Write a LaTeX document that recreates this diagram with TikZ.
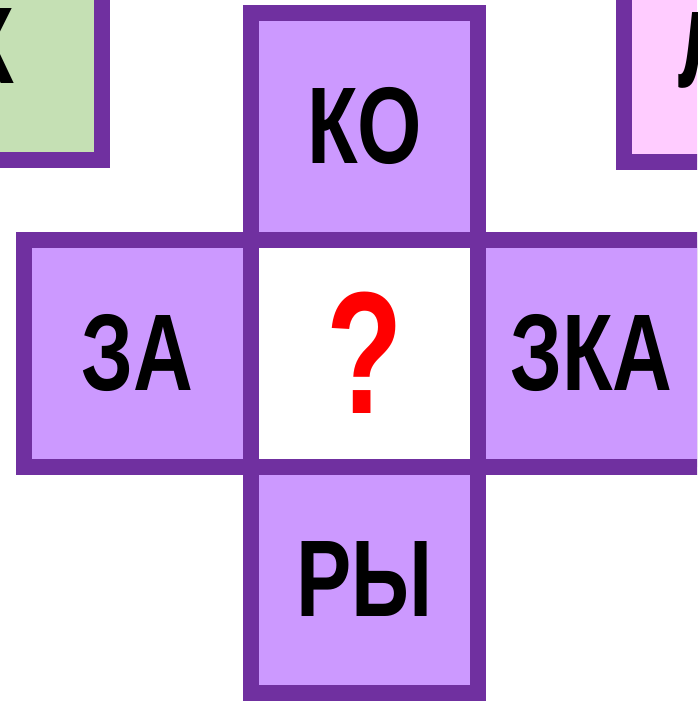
\documentclass[tikz,border=0pt]{standalone}
\usepackage{fontspec}
\setmainfont{Liberation Sans}
\definecolor{rim}{HTML}{7030A0}
\definecolor{lav}{HTML}{CC99FF}
\definecolor{leaf}{HTML}{C5E0B4}
\definecolor{rose}{HTML}{FFCCFF}
\definecolor{qred}{HTML}{FF0000}
\newcommand{\narrowtxt}[1]{\scalebox{0.76}[1]{#1}}
\begin{document}
\begin{tikzpicture}[x=1pt,y=-1pt,
  bigtext/.style={font=\fontsize{109}{110}\selectfont\bfseries},
  cell/.style={draw=rim,line width=16pt,minimum width=227pt,minimum height=227pt,
    inner sep=0pt,outer sep=0pt,bigtext},
  syl/.style={cell,fill=lav}]
\useasboundingbox (0,0) rectangle (697,707);
\clip (0,0) rectangle (697,707);
\node[cell,fill=leaf] (green) at (-11.5,46) {\narrowtxt{К}};
\node[cell,fill=rose] (pink) at (737.5,48) {};
\node[bigtext,inner sep=0pt] (pinklabel) at (708,50) {\narrowtxt{Л}};
\node[syl] (top) at (364.5,126) {\narrowtxt{КО}};
\node[syl] (left) at (137.5,353) {\narrowtxt{ЗА}};
\node[syl] (right) at (591.5,353) {\narrowtxt{ЗКА}};
\node[syl] (bottom) at (364.5,579) {\narrowtxt{РЫ}};
\node[cell,fill=white,text=qred,font=\fontsize{174}{175}\selectfont\bfseries] (mid) at (364.5,353) {\scalebox{0.72}[1]{?}};
\end{tikzpicture}
\end{document}
